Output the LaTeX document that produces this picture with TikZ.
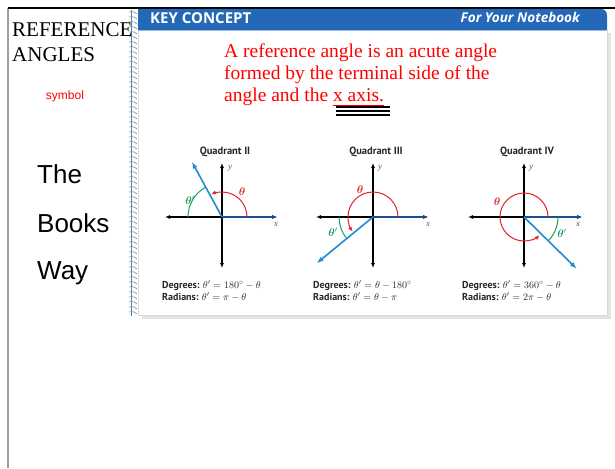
\documentclass[tikz,border=0pt]{standalone}
\usepackage{fontspec}
\usepackage{amsmath}
\usepackage{bm}
\setmainfont{Liberation Serif}
\newfontfamily\arialfont{Liberation Sans}
\newfontfamily\boxfont{Open Sans}
\newfontfamily\quadfont{PT Sans}
\usetikzlibrary{arrows.meta, positioning}

\definecolor{headblue}{RGB}{36,104,184}
\definecolor{termblue}{RGB}{30,140,210}
\definecolor{xblue}{RGB}{28,78,140}
\definecolor{arcred}{RGB}{225,35,45}
\definecolor{arcgreen}{RGB}{30,158,95}
\definecolor{spiralgray}{RGB}{95,125,155}

\begin{document}
\begin{tikzpicture}[x=1pt, y=-1pt,
  axis/.style={black, line width=1.1pt, {Latex[length=5pt,width=4pt]}-{Latex[length=5pt,width=4pt]}},
  posx/.style={xblue, line width=1.7pt, -{Latex[length=5pt,width=4pt]}},
  terminal/.style={termblue, line width=1.6pt, -{Latex[length=7pt,width=5pt]}},
  thetaarc/.style={arcred, line width=1pt, -{Latex[length=5pt,width=4pt]}},
  refarc/.style={arcgreen, line width=1pt},
  thetalbl/.style={arcred, inner sep=0pt, font=\fontsize{11}{12}\selectfont},
  reflbl/.style={arcgreen, inner sep=0pt, font=\fontsize{11}{12}\selectfont},
  axlbl/.style={gray!75!black, inner sep=0pt, font=\fontsize{9}{10}\selectfont\itshape},
  quadtitle/.style={anchor=base, inner sep=0pt, text=black!85, font=\quadfont\bfseries\fontsize{10.5}{12}\selectfont},
  formula/.style={anchor=base west, inner sep=0pt, text=black!85, font=\fontsize{10}{11}\selectfont},
  deftext/.style={anchor=base west, inner sep=0pt, text=red, font=\fontsize{19.5}{22}\selectfont},
  bookway/.style={anchor=base west, inner sep=0pt, font=\arialfont\fontsize{26}{30}\selectfont}]
\useasboundingbox (0,0) rectangle (615,468);

% frame of the slide
\draw[gray!75, line width=2pt] (8,8) -- (8,468);
\draw[black, line width=1.4pt] (8,8) -- (615,8);

% notebook page with shadow
\fill[gray!22] (142,33) rectangle (611,319);
\fill[white] (138,30) rectangle (607,315);
\draw[gray!30, line width=0.4pt] (138,30) rectangle (607,315);
\fill[headblue] (138,30) -- (138,9) -- (601,9) arc[start angle=270, end angle=360, radius=6] -- (607,30) -- cycle;
\draw[headblue!45, line width=1pt] (138,30.5) -- (607,30.5);
\node[anchor=base west, inner sep=0pt, text=white, font=\boxfont\bfseries\fontsize{15}{18}\selectfont] (keyconcept) at (150,24) {KEY CONCEPT};
\node[anchor=base east, inner sep=0pt, text=white, font=\boxfont\bfseries\itshape\fontsize{13.5}{16}\selectfont] (notebook) at (580,23) {For Your Notebook};

% spiral binding
\draw[spiralgray, line width=0.8pt] (131,10) -- (131,316);
\foreach \s in {0,...,60}
  \draw[spiralgray!80, line width=0.7pt] (129,{12+5*\s}) .. controls (133,{11+5*\s}) and (136,{12.5+5*\s}) .. (137,{14+5*\s});

% left column texts
\node[anchor=base west, inner sep=0pt, font=\fontsize{21}{24}\selectfont] (refword) at (12,37) {REFERENCE};
\node[anchor=base west, inner sep=0pt, font=\fontsize{21}{24}\selectfont] (angword) at (12,62) {ANGLES};
\node[anchor=base, inner sep=0pt, text=red, font=\arialfont\fontsize{12}{14}\selectfont] (symbol) at (65,100) {symbol};
\node[bookway] (the) at (37,183) {The};
\node[bookway] (books) at (37,232) {Books};
\node[bookway] (way) at (37,279) {Way};

% definition
\node[deftext] (def1) at (224,58) {A reference angle is an acute angle};
\node[deftext] (def2) at (224,80) {formed by the terminal side of the};
\node[deftext] (def3) at (224,102) {angle and the \underline{x axis.}};
\foreach \u in {107,111,115}
  \draw[black, line width=1.3pt] (336,\u) -- (390,\u);

% Quadrant II
\node[quadtitle] (q2title) at (225,154) {Quadrant II};
\begin{scope}[shift={(222,217)}, yscale=-1]
  \coordinate (o2) at (0,0);
  \draw[axis] (-57,0) -- (55,0);
  \draw[axis] (0,-51) -- (0,54);
  \draw[posx] (o2) -- (55,0);
  \draw[refarc] (180:34) arc[start angle=180, end angle=119, radius=34];
  \draw[thetaarc] (0:25) arc[start angle=0, end angle=116, radius=25];
  \draw[terminal] (o2) -- (118.6:63);
  \node[thetalbl] (q2t) at (20,25) {$\bm{\theta}$};
  \node[reflbl] (q2r) at (-32,17) {$\bm{\theta}'$};
  \node[axlbl] (q2y) at (8,49) {y};
  \node[axlbl] (q2x) at (54,-7) {x};
\end{scope}
\node[formula] (q2deg) at (162,288) {{\quadfont\bfseries Degrees:} $\theta' = 180^\circ - \theta$};
\node[formula] (q2rad) at (162,300) {{\quadfont\bfseries Radians:} $\theta' = \pi - \theta$};

% Quadrant III
\node[quadtitle] (q3title) at (376,154) {Quadrant III};
\begin{scope}[shift={(373,217)}, yscale=-1]
  \coordinate (o3) at (0,0);
  \draw[axis] (-57,0) -- (55,0);
  \draw[axis] (0,-51) -- (0,54);
  \draw[posx] (o3) -- (55,0);
  \draw[refarc] (180:34) arc[start angle=180, end angle=219, radius=34];
  \draw[thetaarc] (0:25) arc[start angle=0, end angle=216, radius=25];
  \draw[terminal] (o3) -- (219.4:73);
  \node[thetalbl] (q3t) at (-13,27) {$\bm{\theta}$};
  \node[reflbl] (q3r) at (-40,-15) {$\bm{\theta}'$};
  \node[axlbl] (q3y) at (7,49) {y};
  \node[axlbl] (q3x) at (55,-7) {x};
\end{scope}
\node[formula] (q3deg) at (313,288) {{\quadfont\bfseries Degrees:} $\theta' = \theta - 180^\circ$};
\node[formula] (q3rad) at (313,300) {{\quadfont\bfseries Radians:} $\theta' = \theta - \pi$};

% Quadrant IV
\node[quadtitle] (q4title) at (527,154) {Quadrant IV};
\begin{scope}[shift={(524,217)}, yscale=-1]
  \coordinate (o4) at (0,0);
  \draw[axis] (-56,0) -- (58,0);
  \draw[axis] (0,-51) -- (0,54);
  \draw[posx] (o4) -- (58,0);
  \draw[refarc] (0:34) arc[start angle=0, end angle=-44.5, radius=34];
  \draw[thetaarc] (0:24) arc[start angle=0, end angle=311, radius=24];
  \draw[terminal] (o4) -- (-44.5:74);
  \node[thetalbl] (q4t) at (-27,15) {$\bm{\theta}$};
  \node[reflbl] (q4r) at (38,-16) {$\bm{\theta}'$};
  \node[axlbl] (q4y) at (7,49) {y};
  \node[axlbl] (q4x) at (54,-7) {x};
\end{scope}
\node[formula] (q4deg) at (462,288) {{\quadfont\bfseries Degrees:} $\theta' = 360^\circ - \theta$};
\node[formula] (q4rad) at (462,300) {{\quadfont\bfseries Radians:} $\theta' = 2\pi - \theta$};
\end{tikzpicture}
\end{document}
